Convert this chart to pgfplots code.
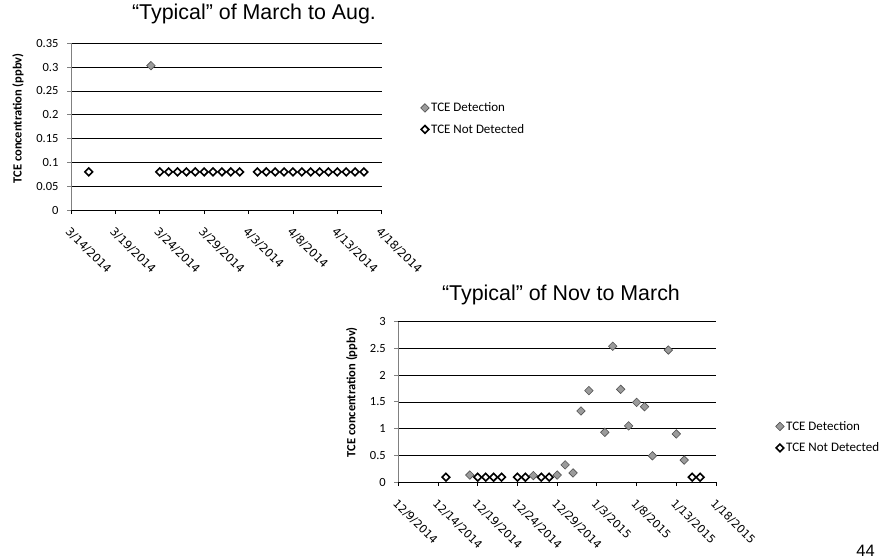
\documentclass[border=0pt]{standalone}
\usepackage{fontspec}
\setmainfont{Carlito}
\newfontfamily\titlefont{Liberation Sans}
\newfontfamily\datefont{DejaVu Sans}
\usepackage{pgfplots}
\pgfplotsset{compat=1.18}
\definecolor{detgray}{RGB}{155,155,155}
\definecolor{detedge}{RGB}{80,80,80}
\pgfplotsset{
  tceaxis/.style={
    scale only axis, anchor=south west,
    axis x line*=bottom, axis y line*=left,
    x axis line style={black, line width=0.8pt},
    y axis line style={gray, line width=0.8pt},
    ymajorgrids, grid style={black, line width=0.7pt},
    tick align=outside, major tick length=4pt,
    xtick style={black, line width=0.8pt},
    ytick style={gray, line width=0.8pt},
    yticklabel style={font=\fontsize{12.5}{14}\selectfont, xshift=-5pt},
    ylabel style={font=\fontsize{12.5}{14}\selectfont\bfseries, anchor=center},
    xticklabel style={xshift=0pt, yshift=-12pt, rotate=-45, anchor=north west, inner sep=0pt},
    legend image code/.code={\draw[#1] plot coordinates {(0pt,0pt)};},
    legend style={draw=none, fill=none, inner sep=0pt, row sep=7pt,
      font=\fontsize{13}{15}\selectfont, cells={anchor=west}},
    legend cell align=left,
    clip=false,
  },
  det/.style={only marks, mark=square*, mark size=3.0pt,
    mark options={rotate=45, fill=detgray, draw=detedge, line width=0.6pt}},
  nd/.style={only marks, mark=square*, mark size=2.7pt,
    mark options={rotate=45, fill=white, draw=black, line width=1.6pt}},
}
\begin{document}
\begin{tikzpicture}
\path[use as bounding box] (0pt,0pt) rectangle (891pt,558pt);
% ---------- top chart ----------
\begin{axis}[tceaxis,
  at={(71pt,348pt)}, width=310.7pt, height=166.7pt,
  xmin=0, xmax=35, ymin=0, ymax=0.35,
  xtick={0,5,10,15,20,25,30,35},
  xticklabels={3/14/2014,3/19/2014,3/24/2014,3/29/2014,4/3/2014,4/8/2014,4/13/2014,4/18/2014},
  xticklabel style={font=\datefont\fontsize{11.5}{13}\selectfont},
  ytick={0,0.05,0.1,0.15,0.2,0.25,0.3,0.35},
  yticklabels={0,0.05,0.1,0.15,0.2,0.25,0.3,0.35},
  ylabel={TCE concentration (ppbv)},
  ylabel style={at={(axis description cs:-0.1706,0.55)}},
  title={“Typical” of March to Aug.},
  title style={at={(axis description cs:0.589,1.1056)}, anchor=base,
    font=\titlefont\fontsize{21.4}{25}\selectfont},
  legend style={at={(axis description cs:1.1249,0.548)}, anchor=west},
]
\addplot[det] coordinates {(9,0.303)};
\addlegendentry{TCE Detection}
\addplot[nd] coordinates {
(2,0.08)
(10,0.08)(11,0.08)(12,0.08)(13,0.08)(14,0.08)(15,0.08)(16,0.08)(17,0.08)(18,0.08)(19,0.08)
(21,0.08)(22,0.08)(23,0.08)(24,0.08)(25,0.08)(26,0.08)(27,0.08)(28,0.08)(29,0.08)(30,0.08)(31,0.08)(32,0.08)(33,0.08)};
\addlegendentry{TCE Not Detected}
\end{axis}
% ---------- bottom chart ----------
\begin{axis}[tceaxis,
  at={(398.3pt,76pt)}, width=317.7pt, height=160.3pt,
  xmin=0, xmax=40, ymin=0, ymax=3,
  xtick={0,5,10,15,20,25,30,35,40},
  xticklabels={12/9/2014,12/14/2014,12/19/2014,12/24/2014,12/29/2014,1/3/2015,1/8/2015,1/13/2015,1/18/2015},
  xticklabel style={font=\datefont\fontsize{11.2}{13}\selectfont},
  ytick={0,0.5,1,1.5,2,2.5,3},
  yticklabels={0,0.5,1,1.5,2,2.5,3},
  ylabel={TCE concentration (ppbv)},
  ylabel style={at={(axis description cs:-0.1467,0.56)}},
  title={“Typical” of Nov to March},
  title style={at={(axis description cs:0.512,1.0936)}, anchor=base,
    font=\titlefont\fontsize{21.4}{25}\selectfont},
  legend style={at={(axis description cs:1.1873,0.2795)}, anchor=west},
]
\addplot[det] coordinates {
(9,0.13)(17,0.12)(20,0.13)(21,0.32)(22,0.17)(23,1.33)(24,1.71)(26,0.93)(27,2.54)
(28,1.735)(29,1.05)(30,1.49)(31,1.41)(32,0.49)(34,2.47)(35,0.90)(36,0.41)};
\addlegendentry{TCE Detection}
\addplot[nd] coordinates {
(6,0.09)(10,0.09)(11,0.09)(12,0.09)(13,0.09)(15,0.09)(16,0.09)(18,0.09)(19,0.09)(37,0.09)(38,0.09)};
\addlegendentry{TCE Not Detected}
\end{axis}
\node[anchor=base, font=\titlefont\fontsize{16.5}{18}\selectfont] at (865.5pt,2pt) {44};
\end{tikzpicture}
\end{document}
